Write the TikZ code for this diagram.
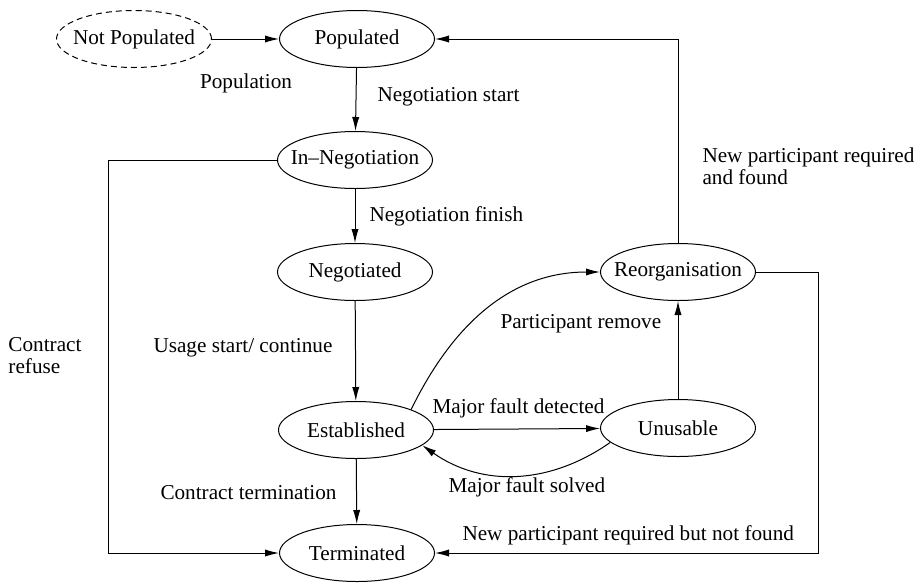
\documentclass[tikz,border=0pt]{standalone}
\usepackage{fontspec}
\setmainfont{Liberation Serif}
\usetikzlibrary{arrows.meta,positioning,shapes.geometric}

\begin{document}
\begin{tikzpicture}[x=0.5pt,y=-0.5pt,
    state/.style={draw,ellipse,minimum width=77.5pt,minimum height=28.5pt,inner sep=0pt,
      execute at begin node=\hbox to 0pt\bgroup\hss,execute at end node=\hss\egroup},
    lbl/.style={anchor=west,inner sep=0pt,align=left},
    >={Latex[length=7pt,width=3.6pt]},line width=0.5pt,
    font=\fontsize{10.6}{11}\selectfont]
    \useasboundingbox (0,0) rectangle (924,584);
    % states
    \node[state,dash pattern=on 3pt off 2pt] (notpop) at (134,39) {Not Populated};
    \node[state] (pop) at (357,39) {Populated};
    \node[state] (inneg) at (355,160) {In--Negotiation};
    \node[state] (neg) at (355,272) {Negotiated};
    \node[state] (est) at (356,430) {Established};
    \node[state] (term) at (357,553) {Terminated};
    \node[state] (reo) at (678,272) {Reorganisation};
    \node[state] (uns) at (678,428) {Unusable};
    \coordinate (lcorner) at (108,553);
    \coordinate (rcorner) at (818,553);
    % transitions
    \draw[->] (notpop) -- (pop);
    \draw[->] (pop) -- (inneg);
    \draw[->] (inneg) -- (neg);
    \draw[->] (neg) -- (est);
    \draw[->] (est) -- (term);
    \draw[->] (est) -- (uns);
    \draw[->] (uns) -- (reo);
    \draw[->] (est.north east) to[out=64,in=180] (reo.west);
    \draw[->] (uns.192) to[out=215,in=-35] (est.-13);
    \draw[->] (inneg.west) -| (lcorner) -- (term.west);
    \draw[->] (reo.east) -| (rcorner) -- (term.east);
    \draw[->] (reo.north) |- (pop.east);
    % labels
    \node[inner sep=0pt] (lpop) at (246,83) {Population};
    \node[lbl] (lstart) at (377,97) {Negotiation start};
    \node[lbl] (lfinish) at (369,216) {Negotiation finish};
    \node[lbl] (lusage) at (153,348) {Usage start/ continue};
    \node[lbl] (lterm) at (160,493) {Contract termination};
    \node[lbl] (lrefuse) at (8,356) {Contract\\refuse};
    \node[lbl] (lfound) at (702,166) {New participant required\\and found};
    \node[lbl] (lremove) at (500,324) {Participant remove};
    \node[lbl] (ldetect) at (432,408) {Major fault detected};
    \node[lbl] (lsolved) at (448,487) {Major fault solved};
    \node[lbl] (lnotfound) at (462,535) {New participant required but not found};
\end{tikzpicture}
\end{document}
